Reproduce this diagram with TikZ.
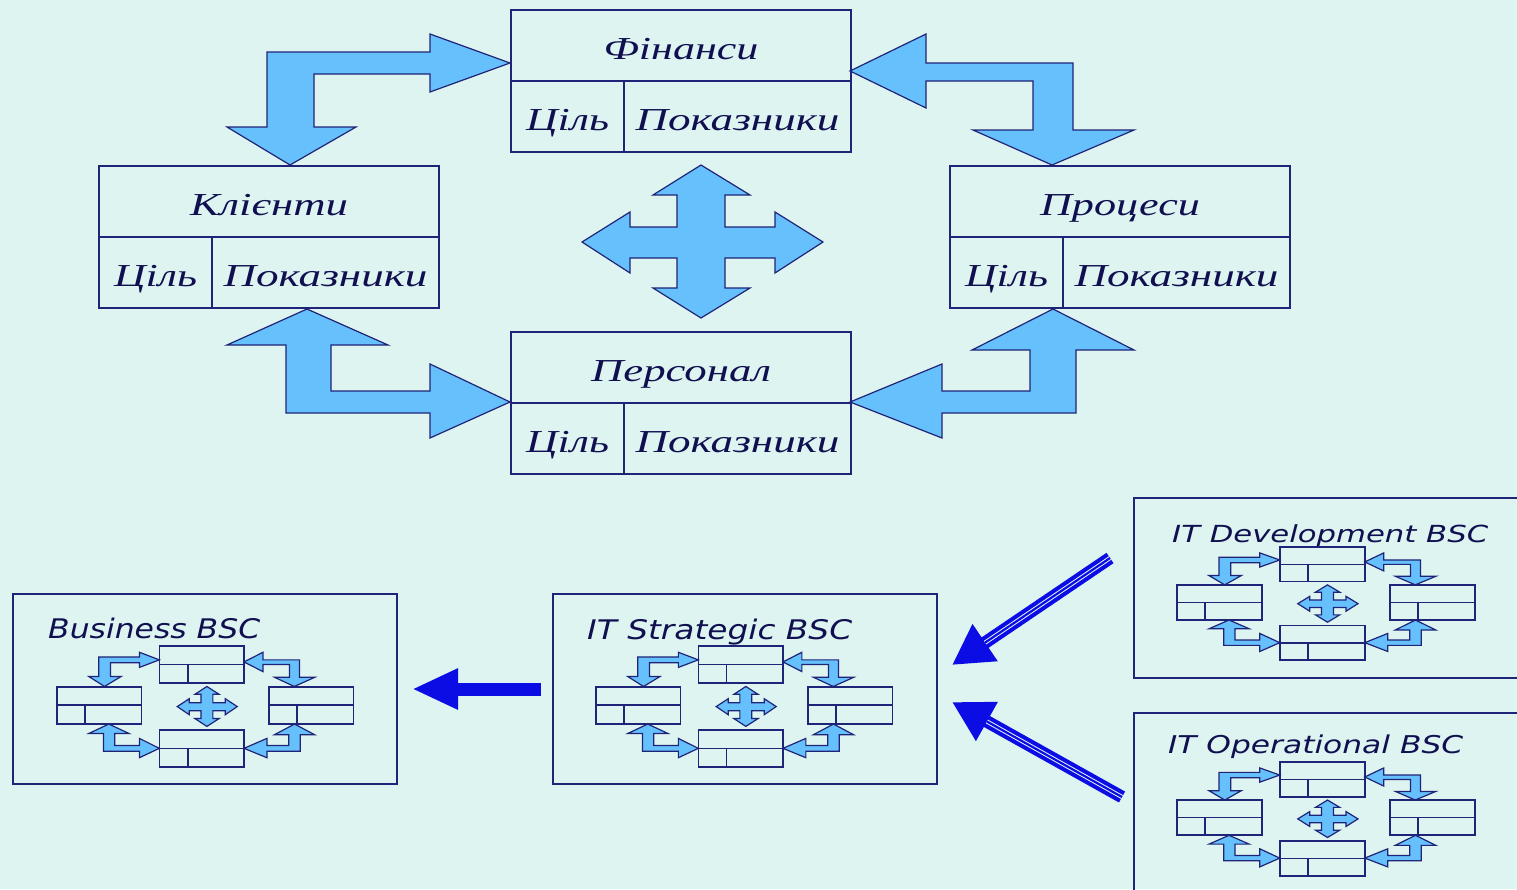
\documentclass[tikz,border=0pt]{standalone}
\usepackage{fontspec}
\usepackage{graphicx}
\usetikzlibrary{arrows.meta}
\newfontfamily\cyrfont{Liberation Serif}
\newfontfamily\bscfont{DejaVu Sans}
\definecolor{bgc}{RGB}{222,244,241}
\definecolor{linec}{RGB}{32,36,120}
\definecolor{arrfill}{RGB}{102,192,252}
\definecolor{txtc}{RGB}{16,16,80}
\definecolor{bluec}{RGB}{12,12,228}
\newcommand\wtext[2]{\resizebox{#1pt}{\height}{#2}}
\newcommand\bscbox[2]{%
  \draw[boxline] (#1,#2) rectangle ++(340,142);
  \draw[boxline] (#1,#2+71) -- ++(340,0);
  \draw[boxline] (#1+113,#2+71) -- ++(0,71);
}
\newcommand\bscdiagram[1]{%
  \filldraw[blockarrow] (510,63) -- (430,34) -- (430,52) -- (267,52) -- (267,127) -- (227,127) -- (290,165) -- (356,127) -- (314,127) -- (314,74) -- (430,74) -- (430,92) -- cycle;
  \filldraw[blockarrow] (850,71) -- (926,34) -- (926,63) -- (1073,63) -- (1073,130) -- (1134,130) -- (1052,165) -- (973,130) -- (1033,130) -- (1033,81) -- (926,81) -- (926,108) -- cycle;
  \filldraw[blockarrow] (307,309) -- (388,345) -- (331,345) -- (331,391) -- (430,391) -- (430,364) -- (510,402) -- (430,438) -- (430,413) -- (286,413) -- (286,345) -- (227,345) -- cycle;
  \filldraw[blockarrow] (1053,309) -- (1134,350) -- (1076,350) -- (1076,413) -- (942,413) -- (942,438) -- (850,402) -- (942,364) -- (942,391) -- (1030,391) -- (1030,350) -- (972,350) -- cycle;
  \filldraw[blockarrow] (701,165) -- (750,195) -- (725,195) -- (725,227) -- (775,227) -- (775,212) -- (823,242) -- (775,273) -- (775,258) -- (725,258) -- (725,288) -- (750,288) -- (701,318) -- (653,288) -- (677,288) -- (677,258) -- (630,258) -- (630,273) -- (582,242) -- (630,212) -- (630,227) -- (677,227) -- (677,195) -- (653,195) -- cycle;
  \bscbox{511}{10}
  \bscbox{99}{166}
  \bscbox{950}{166}
  \bscbox{511}{332}
  \ifnum#1=1
    \node[cyrlabel] (fin)  at (681,59)    {\wtext{155}{Фінанси}};
    \node[cyrlabel] (fing) at (567.5,130) {\wtext{83}{Ціль}};
    \node[cyrlabel] (finp) at (737.5,130) {\wtext{204}{Показники}};
    \node[cyrlabel] (cli)  at (269,215)   {\wtext{158}{Клієнти}};
    \node[cyrlabel] (clig) at (155.5,286) {\wtext{83}{Ціль}};
    \node[cyrlabel] (clip) at (325.5,286) {\wtext{204}{Показники}};
    \node[cyrlabel] (pro)  at (1120,215)  {\wtext{160}{Процеси}};
    \node[cyrlabel] (prog) at (1006.5,286){\wtext{83}{Ціль}};
    \node[cyrlabel] (prop) at (1176.5,286){\wtext{204}{Показники}};
    \node[cyrlabel] (per)  at (681,381)   {\wtext{180}{Персонал}};
    \node[cyrlabel] (perg) at (567.5,452) {\wtext{83}{Ціль}};
    \node[cyrlabel] (perp) at (737.5,452) {\wtext{204}{Показники}};
  \fi
}
\tikzset{
  boxline/.style={draw=linec, line width=1.6pt},
  blockarrow/.style={draw=linec, line width=1.2pt, fill=arrfill, line join=miter},
  cyrlabel/.style={anchor=base, inner sep=0pt, text=txtc, font=\cyrfont\itshape\fontsize{32}{36}\selectfont},
  frame/.style={draw=linec, line width=1.6pt, inner sep=0pt, outer sep=0pt},
  bsctitle/.style={anchor=base west, inner sep=0pt, text=txtc},
  bluearrow/.style={draw=bluec, line width=13pt, -{Triangle[length=46pt,width=38pt]}},
  diagarrow/.style={draw=bluec, line width=12.5pt, -{Triangle[length=40pt,width=42pt]}},
  stripes/.style={draw=bgc, line width=1pt, double=bluec, double distance=2.2pt, shorten >=40pt}
}
\begin{document}
\begin{tikzpicture}[x=1pt, y=-1pt]
  \useasboundingbox (0,0) rectangle (1517,889);
  \fill[bgc] (0,0) rectangle (1517,889);
  \clip (0,0) rectangle (1517,889);
  % main diagram
  \bscdiagram{1}
  % frames
  \node[frame, minimum width=384pt, minimum height=190pt] (bus) at (205,689) {};
  \node[frame, minimum width=384pt, minimum height=190pt] (strat) at (745,689) {};
  \node[frame, minimum width=396pt, minimum height=180pt] (dev) at (1332,588) {};
  \node[frame, minimum width=396pt, minimum height=187pt] (oper) at (1332,806.5) {};
  % titles
  \node[bsctitle, font=\bscfont\itshape\fontsize{27}{30}\selectfont] (bust) at (48,638) {\wtext{212}{Business BSC}};
  \node[bsctitle, font=\bscfont\itshape\fontsize{27}{30}\selectfont] (stratt) at (587,639) {\wtext{265}{IT Strategic BSC}};
  \node[bsctitle, font=\bscfont\itshape\fontsize{23.5}{28}\selectfont] (devt) at (1172,542) {\wtext{316}{IT Development BSC}};
  \node[bsctitle, font=\bscfont\itshape\fontsize{24.5}{28}\selectfont] (opert) at (1168,753) {\wtext{295}{IT Operational BSC}};
  % small diagrams
  \begin{scope}[shift={(32.35,643.4)}, xscale=0.249, yscale=0.261]
    \bscdiagram{0}
  \end{scope}
  \begin{scope}[shift={(571.3,643.4)}, xscale=0.249, yscale=0.261]
    \bscdiagram{0}
  \end{scope}
  \begin{scope}[shift={(1152.25,544.6)}, xscale=0.25, yscale=0.244]
    \bscdiagram{0}
  \end{scope}
  \begin{scope}[shift={(1152.25,759.6)}, xscale=0.25, yscale=0.245]
    \bscdiagram{0}
  \end{scope}
  % connectors
  \draw[bluearrow] ([xshift=-12pt]strat.west) -- ([xshift=15pt]bus.east);
  \coordinate (d1s) at (1110,558);
  \coordinate (d1e) at (952,665);
  \coordinate (d2s) at (1122,797);
  \coordinate (d2e) at (952,702);
  \draw[diagarrow] (d1s) -- (d1e);
  \draw[stripes] (d1s) -- (d1e);
  \draw[diagarrow] (d2s) -- (d2e);
  \draw[stripes] (d2s) -- (d2e);
\end{tikzpicture}
\end{document}
